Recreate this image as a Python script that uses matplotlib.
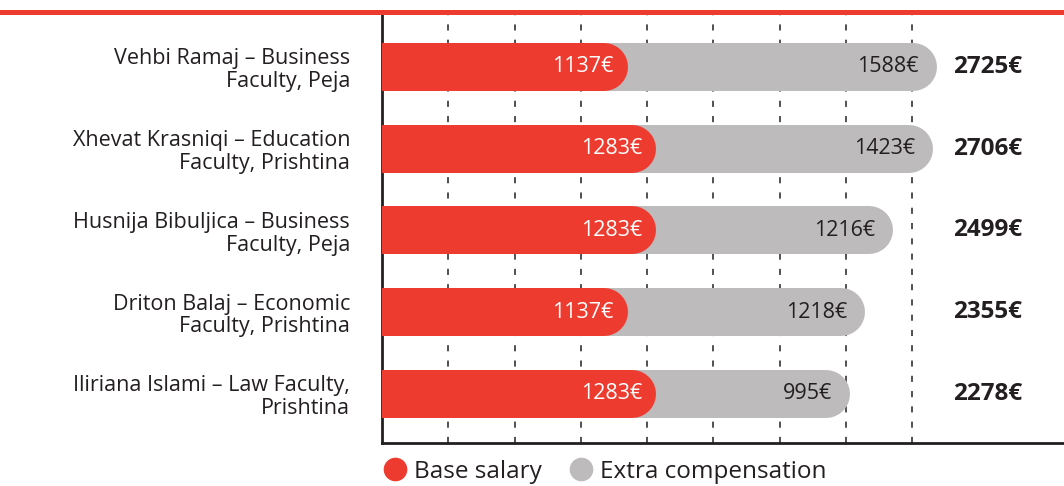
import matplotlib
matplotlib.use("Agg")
import matplotlib.pyplot as plt
from matplotlib.lines import Line2D
import numpy as np

categories = [
    "Vehbi Ramaj – Business\nFaculty, Peja",
    "Xhevat Krasniqi – Education\nFaculty, Prishtina",
    "Husnija Bibuljica – Business\nFaculty, Peja",
    "Driton Balaj – Economic\nFaculty, Prishtina",
    "Iliriana Islami – Law Faculty,\nPrishtina",
]
base_salary = [1137, 1283, 1283, 1137, 1283]
extra_comp = [1588, 1423, 1216, 1218, 995]
totals = [2725, 2706, 2499, 2355, 2278]
series_names = ["Base salary", "Extra compensation"]

RED = "#EE3B30"
GRAY = "#BDBBBC"
DARK = "#231F20"
FONT = "Open Sans"

W, H, DPI = 10.64, 4.86, 100
fig = plt.figure(figsize=(W, H), dpi=DPI)
ax_left, ax_right = 382 / 1064, 1.0
ax_bottom, ax_top = 1 - 443 / 486, 1 - 15 / 486
ax = fig.add_axes([ax_left, ax_bottom, ax_right - ax_left, ax_top - ax_bottom])

xmax = 3500
ax.set_xlim(0, xmax)
ax.set_ylim(4.6, -0.636)

bar_px = 48
lw_pt = bar_px * 72 / DPI
y = np.arange(len(categories))

for i in range(len(categories)):
    tot = base_salary[i] + extra_comp[i]
    ax.plot([-200, tot], [y[i], y[i]], color=GRAY, lw=lw_pt,
            solid_capstyle="round", zorder=2)
    ax.plot([-200, base_salary[i]], [y[i], y[i]], color=RED, lw=lw_pt,
            solid_capstyle="round", zorder=3)
    ax.annotate(f"{base_salary[i]}€", xy=(base_salary[i], y[i]),
                xytext=(10, 0), textcoords="offset pixels",
                ha="right", va="center", color="white",
                fontsize=15.5, family=FONT, zorder=4)
    ax.annotate(f"{extra_comp[i]}€", xy=(tot, y[i]),
                xytext=(6, 0), textcoords="offset pixels",
                ha="right", va="center", color=DARK,
                fontsize=15.5, family=FONT, zorder=4)
    ax.text(0.888, y[i], f"{totals[i]}€", transform=ax.get_yaxis_transform(),
            ha="center", va="center", color=DARK, fontsize=17.5,
            fontweight="bold", family=FONT)

# grid
ax.set_xticks(np.arange(340, 2721, 340))
ax.grid(axis="x", color=DARK, linestyle=(0, (4, 6)), linewidth=1.1, zorder=1)
ax.set_axisbelow(True)
ax.tick_params(axis="x", length=0, labelbottom=False)

ax.set_yticks(y)
ax.set_yticklabels(categories, family=FONT, fontsize=15.5, color=DARK,
                   linespacing=1.1, ha="right")
ax.tick_params(axis="y", length=0, pad=23)

for s in ["top", "right"]:
    ax.spines[s].set_visible(False)
for s in ["left", "bottom"]:
    ax.spines[s].set_color(DARK)
    ax.spines[s].set_linewidth(2)

# top red rule
fig.add_artist(Line2D([0, 1], [1 - 12.5 / 486, 1 - 12.5 / 486],
                      transform=fig.transFigure, color=RED, lw=3.6))

handles = [
    Line2D([], [], marker="o", color="none", markerfacecolor=RED,
           markeredgecolor=RED, markersize=16),
    Line2D([], [], marker="o", color="none", markerfacecolor=GRAY,
           markeredgecolor=GRAY, markersize=16),
]
fig.legend(handles, series_names, loc="center left",
           bbox_to_anchor=(380 / 1064, 1 - 472 / 486), ncol=2, frameon=False,
           prop={"family": FONT, "size": 17.5}, handletextpad=0.2,
           columnspacing=1.0, handlelength=1.2, labelcolor=DARK,
           borderaxespad=0, borderpad=0)

fig.savefig("out.png", dpi=DPI)
